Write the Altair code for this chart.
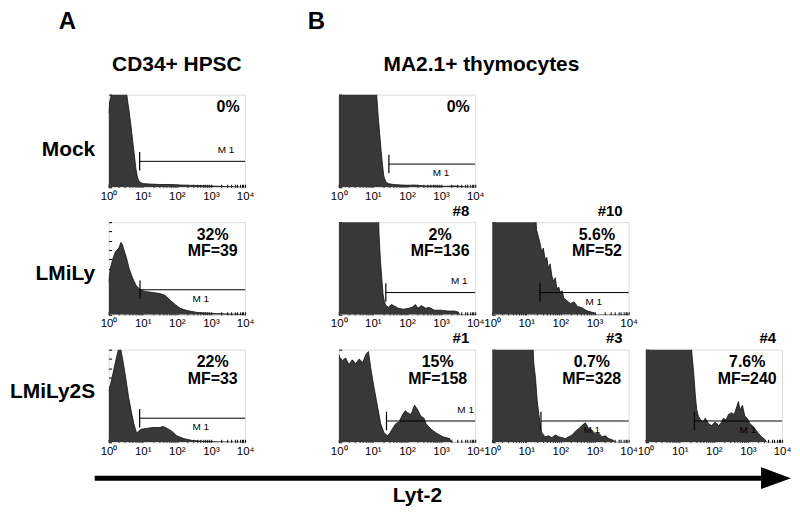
import math
import altair as alt
import pandas as pd

FONT = "Liberation Sans"
W, H = 137, 93

# ---- histogram data: x = log10(Lyt-2 intensity), y = height in % of panel (clipped at 100)
a_mock_x = [0, 0.03, 0.08, 0.15, 0.5, 0.55, 0.6, 0.65, 0.7, 0.75, 0.8, 0.85, 0.9, 1.0, 1.2, 1.5, 1.8, 2.1, 2.5, 2.9, 3.3, 3.7, 4.0]
a_mock_y = [80, 92, 100, 110, 110, 95, 82, 68, 52, 36, 20, 10, 6, 4, 3.5, 3, 3, 2.5, 2, 1.5, 1, 0.5, 0]

a_lmily_x = [0, 0.05, 0.12, 0.2, 0.3, 0.36, 0.4, 0.45, 0.52, 0.6, 0.7, 0.8, 0.9, 1.0, 1.1, 1.3, 1.5, 1.65, 1.8, 1.95, 2.1, 2.3, 2.6, 3.0, 3.4, 3.8, 4.0]
a_lmily_y = [35, 50, 60, 68, 72, 78, 76, 70, 62, 50, 40, 32, 28, 26, 25, 24, 23, 21, 16, 11, 7, 4.5, 2.5, 1.5, 1, 0.5, 0]

a_lmily2s_x = [0, 0.08, 0.16, 0.24, 0.3, 0.36, 0.42, 0.5, 0.58, 0.66, 0.74, 0.82, 0.88, 0.95, 1.1, 1.3, 1.5, 1.6, 1.72, 1.85, 2.0, 2.2, 2.45, 2.8, 3.2, 3.6, 4.0]
a_lmily2s_y = [55, 66, 80, 93, 102, 100, 88, 70, 50, 34, 20, 10, 12, 14, 15, 16, 16, 17, 15, 12, 7, 4, 2, 1, 0.5, 0.3, 0]

b_mock_x = [0, 1.08, 1.12, 1.16, 1.2, 1.24, 1.28, 1.32, 1.38, 1.45, 1.6, 1.8, 2.0, 2.2, 2.5, 2.8, 3.1, 3.4, 3.7, 4.0]
b_mock_y = [130, 130, 95, 75, 58, 40, 25, 12, 6, 4, 3, 2.5, 2, 2.5, 1.5, 1.5, 1, 1.5, 0.5, 0]

b_8_x = [0, 1.15, 1.18, 1.22, 1.26, 1.3, 1.34, 1.38, 1.45, 1.55, 1.65, 1.75, 1.9, 2.05, 2.15, 2.25, 2.32, 2.42, 2.55, 2.65, 2.8, 3.0, 3.2, 3.4, 3.5, 3.55, 4.0]
b_8_y = [130, 130, 88, 60, 40, 22, 14, 10, 8, 11, 9, 7, 6, 7, 8, 11, 7, 10, 7, 8, 5, 5, 4, 4, 3, 0, 0]

b_10_x = [0, 1.25, 1.3, 1.35, 1.4, 1.45, 1.5, 1.55, 1.6, 1.65, 1.7, 1.75, 1.8, 1.85, 1.9, 1.95, 2.0, 2.05, 2.1, 2.2, 2.3, 2.4, 2.5, 2.6, 2.7, 2.8, 2.9, 3.0, 3.05, 4.0]
b_10_y = [130, 130, 92, 85, 78, 68, 72, 60, 62, 50, 55, 42, 36, 40, 28, 30, 24, 26, 18, 15, 12, 14, 9, 8, 6, 4, 3, 2, 0, 0]

b_1_x = [0, 0.05, 0.1, 0.2, 0.3, 0.4, 0.5, 0.6, 0.7, 0.8, 0.87, 0.94, 1.03, 1.13, 1.23, 1.33, 1.43, 1.5, 1.58, 1.67, 1.77, 1.87, 1.95, 2.02, 2.12, 2.22, 2.3, 2.41, 2.5, 2.56, 2.71, 2.86, 3.05, 3.25, 3.3, 4.0]
b_1_y = [95, 90, 88, 91, 84, 89, 85, 90, 86, 95, 98, 80, 60, 40, 20, 10, 7, 10, 15, 20, 22, 30, 34, 32, 30, 40, 36, 28, 26, 20, 14, 10, 6, 4, 0, 0]

b_3_x = [0, 1.17, 1.22, 1.27, 1.32, 1.37, 1.42, 1.46, 1.55, 1.66, 1.75, 1.85, 1.95, 2.05, 2.15, 2.24, 2.35, 2.44, 2.55, 2.63, 2.73, 2.83, 2.93, 3.02, 3.12, 3.22, 3.32, 3.41, 3.5, 3.56, 3.6, 4.0]
b_3_y = [130, 130, 85, 70, 45, 30, 15, 10, 6, 7, 5, 8, 6, 5, 4, 6, 8, 12, 15, 18, 21, 15, 13, 9, 10, 6, 7, 4, 3, 2, 0, 0]

b_4_x = [0, 1.3, 1.36, 1.41, 1.46, 1.5, 1.55, 1.6, 1.68, 1.75, 1.85, 1.94, 2.04, 2.14, 2.2, 2.28, 2.36, 2.43, 2.52, 2.6, 2.67, 2.72, 2.77, 2.84, 2.91, 2.98, 3.06, 3.13, 3.2, 3.3, 3.4, 3.5, 3.55, 4.0]
b_4_y = [130, 130, 95, 75, 50, 35, 28, 25, 22, 26, 20, 18, 22, 18, 20, 26, 24, 30, 32, 30, 38, 44, 35, 40, 28, 26, 20, 18, 15, 10, 6, 3, 0, 0]

# ---- gates (M1), statistics, labels
gate_x = {"a_mock": 0.91, "a_lmily": 0.92, "a_lmily2s": 0.91, "b_mock": 1.47,
          "b_8": 1.38, "b_10": 1.4, "b_1": 1.4, "b_3": 1.43, "b_4": 1.43}
gate_y = {"a_mock": 28, "a_lmily": 27, "a_lmily2s": 26, "b_mock": 25,
          "b_8": 24, "b_10": 24, "b_1": 23, "b_3": 23, "b_4": 23}
m1_x = {"a_mock": 3.44, "a_lmily": 2.7, "a_lmily2s": 2.7, "b_mock": 3.0,
        "b_8": 3.53, "b_10": 2.98, "b_1": 3.72, "b_3": 2.92, "b_4": 3.0}
m1_above = {"a_mock": True, "a_lmily": False, "a_lmily2s": False, "b_mock": False,
            "b_8": True, "b_10": False, "b_1": True, "b_3": False, "b_4": False}
stat_text = {"a_mock": ["0%"], "a_lmily": ["32%", "MF=39"], "a_lmily2s": ["22%", "MF=33"],
             "b_mock": ["0%"], "b_8": ["2%", "MF=136"], "b_10": ["5.6%", "MF=52"],
             "b_1": ["15%", "MF=158"], "b_3": ["0.7%", "MF=328"], "b_4": ["7.6%", "MF=240"]}
stat_x = {"a_mock": 3.5, "a_lmily": 3.05, "a_lmily2s": 3.05, "b_mock": 3.5,
          "b_8": 2.97, "b_10": 3.07, "b_1": 2.9, "b_3": 2.92, "b_4": 2.98}
headers = {"b_8": "#8", "b_10": "#10", "b_1": "#1", "b_3": "#3", "b_4": "#4"}
row_labels = {"a_mock": "Mock", "a_lmily": "LMiLy", "a_lmily2s": "LMiLy2S"}
row_label_y = {"a_mock": 55, "a_lmily": 52, "a_lmily2s": 42}

series = {
    "a_mock": (a_mock_x, a_mock_y), "a_lmily": (a_lmily_x, a_lmily_y),
    "a_lmily2s": (a_lmily2s_x, a_lmily2s_y), "b_mock": (b_mock_x, b_mock_y),
    "b_8": (b_8_x, b_8_y), "b_10": (b_10_x, b_10_y),
    "b_1": (b_1_x, b_1_y), "b_3": (b_3_x, b_3_y), "b_4": (b_4_x, b_4_y),
}

XTICKS = [round(d + math.log10(k), 4) for d in range(4) for k in range(1, 10)] + [4.0]
YTICKS = list(range(0, 101, 10))
SUP = "['\u2070','\u00b9','\u00b2','\u00b3','\u2074']"


def bold_title(text, size, anchor, dx, offset):
    return alt.TitleParams(text, anchor=anchor, frame="group", font=FONT, fontSize=size,
                           fontWeight="bold", color="black", dx=dx, offset=offset)


def panel(key, title=None):
    xs, ys = series[key]
    hist = pd.DataFrame({"x": xs, "y": ys})
    xsc = alt.Scale(domain=[0, 4], nice=False, zero=False)
    ysc = alt.Scale(domain=[0, 100], nice=False)
    xaxis = alt.Axis(values=XTICKS, tickSize=3, offset=-3, domain=False, grid=False,
                     tickColor="black", labelColor="black", labelFont=FONT, labelFontSize=11.5,
                     labelPadding=3, labelFlush=False, labelOverlap=False, labelBound=False,
                     labelExpr="datum.value % 1 === 0 ? '10' + " + SUP + "[datum.value] : ''",
                     title=None)
    yk = dict(values=YTICKS, labels=False, tickSize=3, offset=-3, domain=False, grid=False,
              tickColor="black")
    if key in row_labels:
        yk.update(title=row_labels[key], titleAngle=0, titleAlign="right", titleBaseline="middle",
                  titleFont=FONT, titleFontSize=21, titleFontWeight="bold", titleColor="black",
                  titleX=-17, titleY=row_label_y[key])
    else:
        yk["title"] = None
    yaxis = alt.Axis(**yk)

    gy = gate_y[key]
    gate = pd.DataFrame({"x": [gate_x[key]], "x2": [4.0], "y": [gy], "ylo": [gy - 10], "yhi": [gy + 10]})
    m1 = pd.DataFrame({"x": [m1_x[key]], "y": [gy + 9 if m1_above[key] else gy - 13], "t": ["M 1"]})
    lines = stat_text[key]
    stats = pd.DataFrame({"x": [stat_x[key]] * len(lines), "y": [81, 63][:len(lines)], "t": lines})

    ex = alt.X("x:Q", scale=xsc, axis=xaxis)
    ey = alt.Y("y:Q", scale=ysc, axis=yaxis)

    area = alt.Chart(hist).mark_area(color="#383838", opacity=1, clip=True, interpolate="linear",
                                     line={"color": "#111111", "strokeWidth": 0.8}).encode(x=ex, y=ey)
    m1_layer = alt.Chart(m1).mark_text(font=FONT, fontSize=10, color="black", align="center",
                                       baseline="alphabetic").encode(x=ex, y=ey, text="t:N")
    hline = alt.Chart(gate).mark_rule(color="black", strokeWidth=1).encode(x=ex, x2="x2:Q", y=ey)
    vline = alt.Chart(gate).mark_rule(color="black", strokeWidth=1.2).encode(
        x=ex, y=alt.Y("ylo:Q", scale=ysc, axis=yaxis), y2="yhi:Q")
    stat_layer = alt.Chart(stats).mark_text(font=FONT, fontSize=16, fontWeight="bold", color="black",
                                            align="center", baseline="alphabetic").encode(
        x=ex, y=ey, text="t:N")

    props = dict(width=W, height=H)
    if key in headers:
        props["title"] = alt.TitleParams(headers[key], anchor="end", frame="group", font=FONT,
                                         fontSize=15, fontWeight="bold", color="black",
                                         offset=3, dx=-6)
    if title is not None:
        props["title"] = title
    return alt.layer(area, m1_layer, hline, vline, stat_layer).properties(**props)


def empty(width, height, title=None):
    props = dict(width=width, height=height, view=alt.ViewBackground(stroke="transparent"))
    if title is not None:
        props["title"] = title
    return alt.Chart(pd.DataFrame({"x": [0.0]})).mark_point(opacity=0).encode(
        x=alt.X("x:Q", axis=None), y=alt.Y("x:Q", axis=None)).properties(**props)


SP = 60  # spacer column between panel groups A and B
cells = [
    empty(W, 1, bold_title("A", 24, "start", -50, 23)), empty(SP, 1),
    empty(W, 1, bold_title("B", 24, "start", -31, 23)), empty(W, 1), empty(W, 1),

    panel("a_mock", bold_title("CD34+ HPSC", 21, "middle", 0, 19)), empty(SP, H),
    panel("b_mock", bold_title("MA2.1+ thymocytes", 21, "start", 45, 19)), empty(W, H), empty(W, H),

    panel("a_lmily"), empty(SP, H), panel("b_8"), panel("b_10"), empty(W, H),

    panel("a_lmily2s"), empty(SP, H), panel("b_1"), panel("b_3"), panel("b_4"),
]
grid = alt.concat(*cells, columns=5, spacing={"row": 35, "column": 17}, bounds="flush", align="each")

# ---- Lyt-2 arrow (chart origin aligned with the left edge of the A panels)
AW = 685
arrow_line = pd.DataFrame({"x": [-0.0204], "x2": [0.956], "y": [1.0]})
arrow_tip = pd.DataFrame({"x": [0.978], "y": [1.0]})
arrow_label = pd.DataFrame({"x": [0.4526], "y": [0.0], "t": ["Lyt-2"]})
ax = alt.X("x:Q", scale=alt.Scale(domain=[0, 1], nice=False, zero=False), axis=None)
ay = alt.Y("y:Q", scale=alt.Scale(domain=[0, 1], nice=False), axis=None)
arrow = alt.layer(
    alt.Chart(arrow_line).mark_rule(color="black", strokeWidth=5).encode(x=ax, x2="x2:Q", y=ay),
    alt.Chart(arrow_tip).mark_point(shape="M-1,-0.73L1,0L-1,0.73Z", filled=True, size=900,
                                    color="black", opacity=1).encode(x=ax, y=ay),
    alt.Chart(arrow_label).mark_text(font=FONT, fontSize=21, fontWeight="bold", color="black",
                                     align="center", baseline="alphabetic").encode(x=ax, y=ay, text="t:N"),
).properties(width=AW, height=24, view=alt.ViewBackground(stroke="transparent"))

chart = alt.vconcat(grid, arrow, spacing=9, bounds="full").properties(
    padding={"left": 0, "top": 0, "right": 0, "bottom": 0}
).configure_view(stroke="black", strokeWidth=1).configure(background="white")

chart.save("out.html", embed_options={"renderer": "svg", "actions": False})
